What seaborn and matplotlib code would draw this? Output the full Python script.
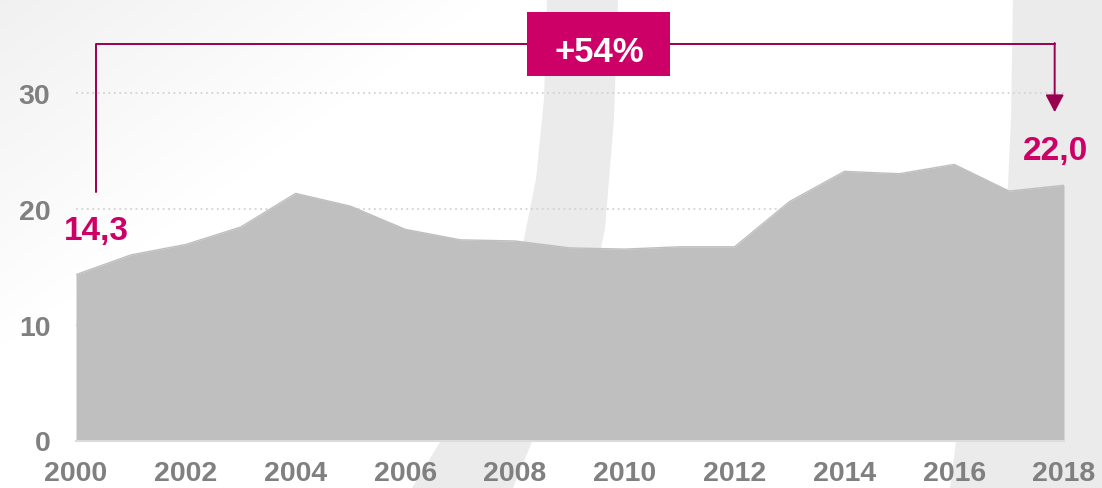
import matplotlib
matplotlib.use('Agg')
import matplotlib.pyplot as plt
import numpy as np
import pandas as pd
import seaborn as sns
from matplotlib.patches import Polygon, Rectangle

# data
years = list(range(2000, 2019))
values = [14.3, 16.0, 16.9, 18.4, 21.3, 20.2, 18.2, 17.3, 17.2, 16.6,
          16.5, 16.7, 16.7, 20.6, 23.2, 23.0, 23.8, 21.5, 22.0]
y_ticks = [0, 10, 20, 30]
x_ticks = list(range(2000, 2019, 2))
start_label = '14,3'
end_label = '22,0'
change_label = '+54%'

W, H = 1102, 489
AREA = '#bfbfbf'
TICK = '#808080'
PINK = '#cc0066'
BRACKET = '#990050'
BAND = '#ebebeb'


def main() -> None:
    sns.set_theme(style='white')
    plt.rcParams['font.family'] = ['Liberation Sans', 'DejaVu Sans']
    plt.rcParams['font.weight'] = 'bold'

    df = pd.DataFrame({'year': years, 'value': values})

    fig = plt.figure(figsize=(W / 100, H / 100), dpi=100)
    fig.patch.set_facecolor('white')

    # decorative background (pixel coordinates, origin top-left)
    bg = fig.add_axes([0, 0, 1, 1], zorder=0)
    bg.set_xlim(0, W)
    bg.set_ylim(H, 0)
    bg.axis('off')
    gx, gy = np.meshgrid(np.arange(W), np.arange(H))
    shade = np.clip(1 - (gx + 1.4 * gy) / 520, 0, 1) * 0.06
    rgba = np.zeros((H, W, 4))
    rgba[..., 3] = shade
    bg.imshow(rgba, extent=(0, W, H, 0), aspect='auto', interpolation='bilinear')
    band = [(547, 0), (544, 100), (536, 180), (520, 260), (496, 340), (468, 400),
            (440, 443), (412, 489),
            (513, 489), (532, 443), (560, 390), (588, 310), (605, 230), (614, 120), (618, 0)]
    bg.add_patch(Polygon(band, closed=True, fc=BAND, ec='none'))
    right = [(1013, 0), (1011, 120), (1006, 230), (996, 320), (978, 400), (956, 443),
             (950, 489), (W, 489), (W, 0)]
    bg.add_patch(Polygon(right, closed=True, fc=BAND, ec='none'))

    # main axes
    y_top = 38
    px_per_unit = 11.6
    ax = fig.add_axes([76 / W, (H - 441.5) / H, (1064 - 76) / W, y_top * px_per_unit / H], zorder=1)
    ax.set_facecolor('none')

    sns.lineplot(data=df, x='year', y='value', color=AREA, lw=1, ax=ax)
    ax.fill_between(df['year'], df['value'], color=AREA, lw=0, zorder=2)

    ax.set_xlim(2000, 2018)
    ax.set_ylim(0, y_top)
    ax.set_xticks(x_ticks)
    ax.set_yticks(y_ticks)
    ax.set_xlabel('')
    ax.set_ylabel('')
    ax.yaxis.grid(True, linestyle=(0, (1, 2)), color='#d3d3d3', lw=1.3)
    ax.set_axisbelow(True)
    for side in ['top', 'right', 'left']:
        ax.spines[side].set_visible(False)
    ax.spines['bottom'].set_color('#dcdcdc')
    ax.spines['bottom'].set_linewidth(1.5)
    ax.tick_params(axis='both', length=0, labelsize=20.5, labelcolor=TICK)
    ax.tick_params(axis='x', pad=14)
    ax.tick_params(axis='y', pad=18.5)
    for lab in ax.get_xticklabels() + ax.get_yticklabels():
        lab.set_fontweight('bold')

    # bracket showing the change between first and last year
    x0, x1 = 2000.36, 2017.83
    y_line = 34.2
    ax.plot([x0, x0, x1], [21.4, y_line, y_line], color=BRACKET, lw=1.4, clip_on=False, zorder=4)
    ax.annotate('', xy=(x1, 28.3), xytext=(x1, y_line + 0.06),
                arrowprops=dict(arrowstyle='-|>,head_length=0.38,head_width=0.2',
                                mutation_scale=28, color=BRACKET, lw=1.4,
                                shrinkA=0, shrinkB=0),
                annotation_clip=False, zorder=4)
    ax.add_patch(Rectangle((2008.22, 31.42), 2.6, 5.52, fc=PINK, ec='none',
                           clip_on=False, zorder=5))
    ax.text(2009.53, 32.75, change_label, ha='center', va='baseline', color='white',
            fontsize=25, fontweight='bold', zorder=6, clip_on=False)

    ax.text(2000.38, 17.33, start_label, ha='center', va='baseline', color=PINK,
            fontsize=24, fontweight='bold', zorder=6)
    ax.text(2017.85, 24.27, end_label, ha='center', va='baseline', color=PINK,
            fontsize=24, fontweight='bold', zorder=6)

    fig.savefig('out.png', dpi=100, facecolor='white')
    plt.close(fig)


if __name__ == '__main__':
    main()
